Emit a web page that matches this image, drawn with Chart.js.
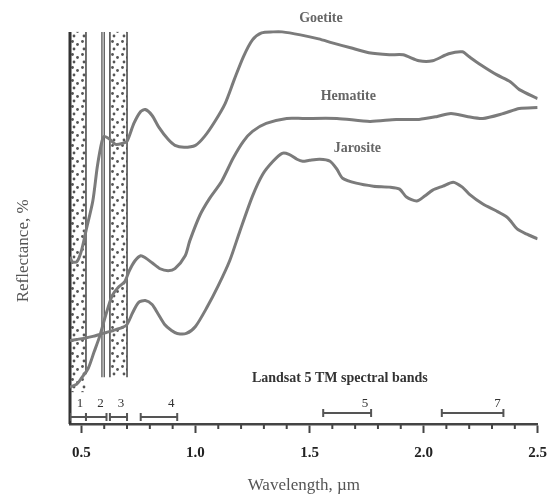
<!DOCTYPE html>
<html>
<head>
<meta charset="utf-8">
<script src="https://cdn.jsdelivr.net/npm/chart.js@4.4.0/dist/chart.umd.min.js"></script>
<style>
  html, body { margin: 0; padding: 0; background: #fff; }
  #wrap { width: 558px; height: 499px; }
</style>
</head>
<body>
<div id="wrap"><canvas id="spectra"></canvas></div>
<script>
// Spectral reflectance of iron minerals
// wavelength in µm, reflectance in relative % (curves are offset)
const goetiteWl = [0.45, 0.46, 0.48, 0.50, 0.52, 0.55, 0.57, 0.59, 0.60, 0.625, 0.65, 0.68, 0.70, 0.73, 0.76, 0.78,
  0.81, 0.84, 0.88, 0.91, 0.95, 1.00, 1.04, 1.085, 1.13, 1.17, 1.21, 1.25, 1.29, 1.34, 1.38, 1.46, 1.54, 1.60,
  1.68, 1.76, 1.85, 1.91, 1.98, 2.04, 2.11, 2.17, 2.20, 2.25, 2.32, 2.38, 2.42, 2.50];
const goetiteRefl = [42.0, 40.75, 40.75, 43.5, 48.5, 56.0, 64.75, 71.0, 72.25, 71.5, 70.25, 70.5, 71.0, 75.5, 78.5, 79.0,
  77.5, 74.5, 71.5, 70.0, 69.5, 70.0, 72.25, 76.0, 80.5, 86.5, 92.25, 96.5, 98.25, 98.5, 98.5, 97.75, 96.75, 95.75,
  94.5, 93.25, 92.75, 92.75, 91.25, 91.25, 93.0, 93.5, 92.25, 90.25, 87.75, 86.0, 84.0, 81.75];

const hematiteWl = [0.45, 0.48, 0.50, 0.53, 0.555, 0.58, 0.61, 0.635, 0.66, 0.69, 0.71, 0.735, 0.76, 0.78, 0.81, 0.845,
  0.88, 0.91, 0.955, 0.975, 1.02, 1.06, 1.115, 1.165, 1.21, 1.25, 1.31, 1.40, 1.47, 1.62, 1.765, 1.88, 1.98, 2.06,
  2.12, 2.19, 2.26, 2.35, 2.42, 2.50];
const hematiteRefl = [9.25, 10.0, 11.5, 14.0, 18.0, 22.0, 28.0, 32.25, 34.25, 35.75, 38.5, 41.0, 42.25, 41.75, 40.5, 39.0,
  38.5, 39.0, 42.25, 46.0, 52.5, 56.5, 61.0, 66.75, 71.0, 73.5, 75.5, 76.75, 76.75, 76.75, 76.0, 76.5, 76.5, 77.25,
  78.0, 77.25, 76.75, 78.0, 79.25, 79.5];

const jarositeWl = [0.45, 0.48, 0.51, 0.55, 0.58, 0.61, 0.64, 0.68, 0.70, 0.725, 0.75, 0.78, 0.81, 0.835, 0.865, 0.895,
  0.92, 0.96, 1.00, 1.05, 1.10, 1.15, 1.195, 1.25, 1.295, 1.34, 1.38, 1.41, 1.445, 1.47, 1.50, 1.545, 1.59, 1.62,
  1.645, 1.705, 1.78, 1.85, 1.895, 1.925, 1.97, 2.005, 2.04, 2.085, 2.13, 2.17, 2.20, 2.26, 2.32, 2.365, 2.385,
  2.41, 2.45, 2.50];
const jarositeRefl = [21.0, 21.25, 21.5, 22.0, 22.5, 23.0, 23.5, 24.25, 25.0, 28.0, 30.5, 31.0, 30.0, 27.75, 25.0, 23.5,
  22.75, 22.75, 24.5, 29.25, 34.75, 41.0, 48.5, 57.25, 62.75, 66.0, 68.0, 67.75, 66.5, 66.0, 66.25, 66.5, 66.0, 64.0,
  61.75, 60.5, 59.75, 59.5, 59.0, 57.0, 56.0, 57.25, 58.75, 59.75, 60.75, 59.5, 57.75, 55.25, 53.5, 52.0, 50.75,
  49.0, 47.75, 46.5];

// Landsat 5 TM bands (µm)
const tmBands = ['1', '2', '3', '4', '5', '7'];
const tmStart = [0.45, 0.52, 0.625, 0.76, 1.56, 2.08];
const tmEnd = [0.52, 0.61, 0.70, 0.92, 1.77, 2.35];

// stippled bands drawn over the plot
const shadeStart = [0.45, 0.625];
const shadeEnd = [0.52, 0.70];

const xTicks = [0.5, 1.0, 1.5, 2.0, 2.5];
const xMinorTicks = [0.6, 0.7, 0.8, 0.9, 1.1, 1.2, 1.3, 1.4, 1.6, 1.7, 1.8, 1.9, 2.1, 2.2, 2.3, 2.4];

const serif = '"Liberation Serif", "DejaVu Serif", serif';
const curveColor = '#7b7b7b';

function toPoints(xs, ys) {
  return xs.map((x, i) => ({ x: x, y: ys[i] }));
}

const curveSets = [
  { label: 'Goetite', data: toPoints(goetiteWl, goetiteRefl) },
  { label: 'Hematite', data: toPoints(hematiteWl, hematiteRefl) },
  { label: 'Jarosite', data: toPoints(jarositeWl, jarositeRefl) }
].map(d => ({
  ...d,
  borderColor: curveColor,
  borderWidth: 3,
  pointRadius: 0,
  tension: 0.25
}));

// band brackets sit just above the axis; 5 and 7 a bit higher
const bracketSets = tmBands.map((b, i) => ({
  label: 'TM ' + b,
  data: [{ x: tmStart[i], y: i < 4 ? 1.75 : 2.75 }, { x: tmEnd[i], y: i < 4 ? 1.75 : 2.75 }],
  borderColor: '#555',
  borderWidth: 2,
  pointStyle: 'line',
  rotation: 90,
  pointRadius: 4,
  pointBorderWidth: 2,
  pointBorderColor: '#555',
  tension: 0
}));

// stipple bands, minor ticks and all loose text
const decor = {
  id: 'decor',
  beforeDatasetsDraw(chart) {
    const { ctx, scales: { x, y } } = chart;
    const tile = document.createElement('canvas');
    tile.width = 10; tile.height = 13;
    const g = tile.getContext('2d');
    g.fillStyle = '#fff';
    g.fillRect(0, 0, 10, 13);
    g.fillStyle = '#555';
    [[2.5, 2.5], [7.5, 5.5], [4, 10]].forEach(([cx, cy]) => {
      g.beginPath(); g.arc(cx, cy, 1.4, 0, Math.PI * 2); g.fill();
    });
    const pattern = ctx.createPattern(tile, 'repeat');

    const top = y.getPixelForValue(98.5);
    const bottoms = [y.getPixelForValue(8), y.getPixelForValue(11.75)];
    ctx.save();
    shadeStart.forEach((s, i) => {
      const x0 = x.getPixelForValue(s), x1 = x.getPixelForValue(shadeEnd[i]);
      ctx.fillStyle = pattern;
      ctx.fillRect(x0, top, x1 - x0, bottoms[i] - top);
      ctx.strokeStyle = '#444';
      ctx.lineWidth = 1.5;
      ctx.beginPath();
      ctx.moveTo(x0, bottoms[i]); ctx.lineTo(x0, top);
      ctx.moveTo(x1, top); ctx.lineTo(x1, i === 0 ? y.getPixelForValue(12.5) : bottoms[i]);
      ctx.stroke();
    });
    // heavy left edge of band 1 doubles as the y axis
    ctx.lineWidth = 3;
    ctx.strokeStyle = '#333';
    ctx.beginPath();
    ctx.moveTo(x.getPixelForValue(0.45), top);
    ctx.lineTo(x.getPixelForValue(0.45), y.getPixelForValue(0));
    ctx.stroke();
    // double line at the end of band 2
    ctx.lineWidth = 1.2;
    ctx.strokeStyle = '#444';
    [0.59, 0.60].forEach(v => {
      const px = x.getPixelForValue(v);
      ctx.beginPath();
      ctx.moveTo(px, top);
      ctx.lineTo(px, bottoms[1]);
      ctx.stroke();
    });
    ctx.restore();
  },
  afterDraw(chart) {
    const { ctx, scales: { x, y } } = chart;
    ctx.save();
    // minor ticks
    ctx.strokeStyle = '#444';
    ctx.lineWidth = 2;
    xMinorTicks.forEach(v => {
      const px = x.getPixelForValue(v);
      ctx.beginPath();
      ctx.moveTo(px, y.bottom);
      ctx.lineTo(px, y.bottom + 5);
      ctx.stroke();
    });

    ctx.textAlign = 'center';
    ctx.textBaseline = 'middle';
    // curve names
    ctx.fillStyle = '#666';
    ctx.font = 'bold 14px ' + serif;
    [['Goetite', 1.55, 102], ['Hematite', 1.67, 82.25], ['Jarosite', 1.71, 69.25]].forEach(([t, wx, wy]) => {
      ctx.fillText(t, x.getPixelForValue(wx), y.getPixelForValue(wy));
    });
    // TM band caption and numbers
    ctx.fillStyle = '#333';
    ctx.font = 'bold 14px ' + serif;
    ctx.fillText('Landsat 5 TM spectral bands', x.getPixelForValue(1.633), y.getPixelForValue(11.5));
    ctx.font = '13px ' + serif;
    tmBands.forEach((b, i) => {
      ctx.fillText(b, x.getPixelForValue(tmEnd[i]) - 6, y.getPixelForValue(5.25));
    });
    // y axis title
    ctx.fillStyle = '#555';
    ctx.font = '17px ' + serif;
    ctx.translate(chart.chartArea.left - 46, y.getPixelForValue(43.5));
    ctx.rotate(-Math.PI / 2);
    ctx.fillText('Reflectance, %', 0, 0);
    ctx.restore();
  }
};

new Chart(document.getElementById('spectra'), {
  type: 'line',
  data: { datasets: curveSets.concat(bracketSets) },
  options: {
    responsive: true,
    maintainAspectRatio: false,
    animation: false,
    layout: { padding: { top: 4, right: 20, bottom: 0, left: 0 } },
    plugins: {
      legend: { display: false },
      tooltip: { enabled: false }
    },
    scales: {
      x: {
        type: 'linear',
        min: 0.45,
        max: 2.5,
        afterBuildTicks: scale => { scale.ticks = xTicks.map(v => ({ value: v })); },
        afterFit: scale => { scale.height = 75; },
        grid: { drawOnChartArea: false, drawTicks: true, tickLength: 9, tickColor: '#444', tickWidth: 2 },
        border: { display: true, color: '#444', width: 2.5 },
        ticks: {
          padding: 11,
          color: '#222',
          font: { family: serif, size: 15, weight: 'bold' },
          callback: v => v.toFixed(1)
        },
        title: {
          display: true,
          text: 'Wavelength, µm',
          color: '#555',
          font: { family: serif, size: 17 },
          padding: { top: 0, bottom: 3 }
        }
      },
      y: {
        min: 0,
        max: 105,
        afterFit: scale => { scale.width = 70; },
        grid: { display: false },
        border: { display: false },
        ticks: { display: false }
      }
    }
  },
  plugins: [decor]
});
</script>
</body>
</html>
